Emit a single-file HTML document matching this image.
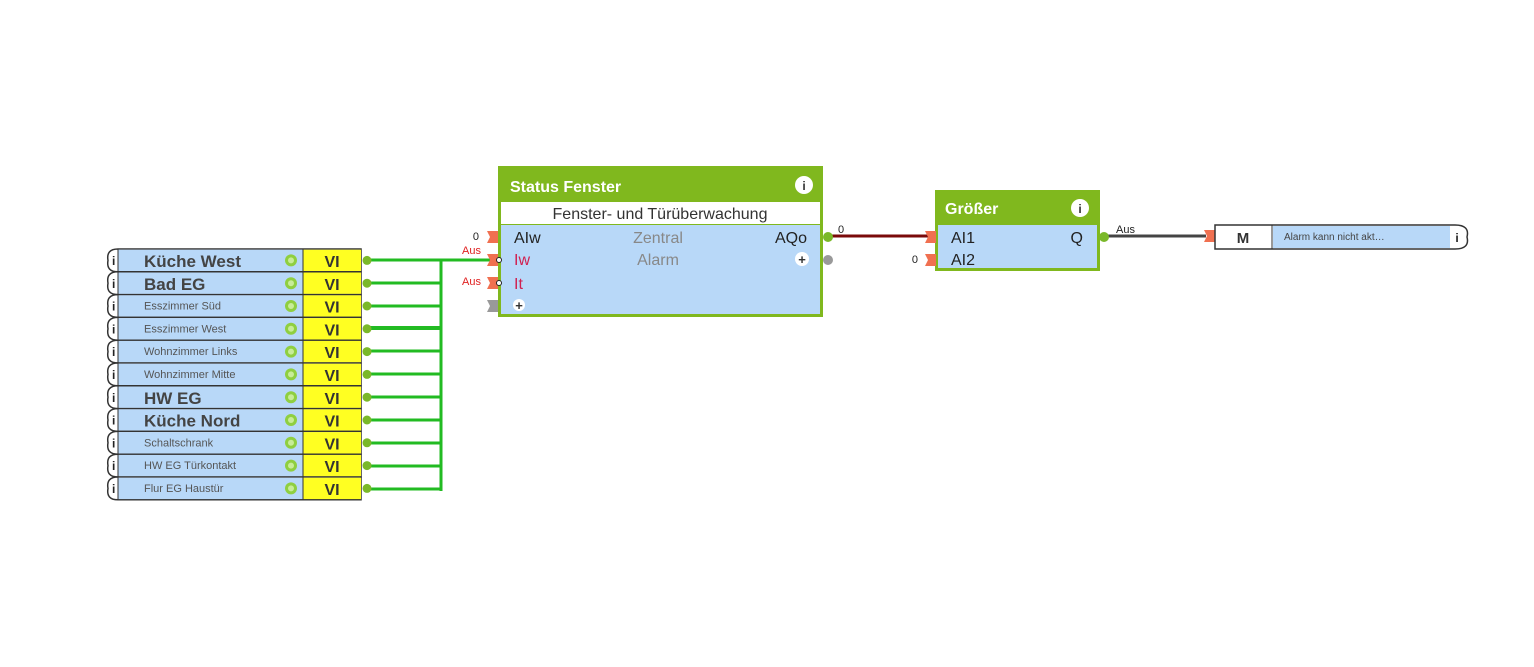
<!DOCTYPE html>
<html><head><meta charset="utf-8"><style>
html,body{margin:0;padding:0;background:#fff;width:1534px;height:667px;overflow:hidden}
svg{display:block;font-family:"Liberation Sans",sans-serif}
</style></head><body>
<svg width="1534" height="667" viewBox="0 0 1534 667" xmlns="http://www.w3.org/2000/svg">
<!-- bus lines -->
<g stroke="#22bb22" stroke-width="3" fill="none">
<line x1="441" y1="260" x2="441" y2="491"/>
<line x1="370" y1="260" x2="495" y2="260"/>
<line x1="370" y1="283" x2="441" y2="283"/>
<line x1="370" y1="306" x2="441" y2="306"/>
<line x1="370" y1="328" x2="441" y2="328" stroke-width="4"/>
<line x1="370" y1="351" x2="441" y2="351"/>
<line x1="370" y1="374" x2="441" y2="374"/>
<line x1="370" y1="397" x2="441" y2="397"/>
<line x1="370" y1="420" x2="441" y2="420"/>
<line x1="370" y1="443" x2="441" y2="443"/>
<line x1="370" y1="466" x2="441" y2="466"/>
<line x1="370" y1="489" x2="441" y2="489"/>
</g>
<line x1="830" y1="236" x2="930" y2="236" stroke="#7a0a0a" stroke-width="3"/>
<line x1="1106" y1="236" x2="1206" y2="236" stroke="#444" stroke-width="3"/>

<!-- rows -->
<g id="rows" font-size="11">
<g transform="translate(0,249)">
<path d="M118,0 H361 V22.8 H118 Q106,22.8 108,11.4 Q106,0 118,0Z" fill="#fff" stroke="#333" stroke-width="1.5"/>
<rect x="118" y="0.7" width="185" height="21.4" fill="#b8d8f8"/><rect x="303" y="0.7" width="58" height="21.4" fill="#ffff22"/>
<line x1="303" y1="0" x2="303" y2="22.8" stroke="#333"/><line x1="118" y1="0" x2="118" y2="22.8" stroke="#333"/>
<text x="112" y="16" font-size="12" font-weight="bold" fill="#222">i</text>
<circle cx="291" cy="11.4" r="6" fill="#8fcf40"/><circle cx="291" cy="11.4" r="3" fill="#c8ec98"/>
<text x="332" y="18" font-size="16" font-weight="bold" text-anchor="middle" fill="#333">VI</text>
<circle cx="367" cy="11.4" r="4.5" fill="#7ab829"/>
<text x="144" y="18" font-size="17" font-weight="bold" fill="#444">Küche West</text>
</g>
</g>
<g font-size="11">
<!-- generated rows 2..11 -->
<g transform="translate(0,271.8)"><path d="M118,0 H361 V22.8 H118 Q106,22.8 108,11.4 Q106,0 118,0Z" fill="#fff" stroke="#333" stroke-width="1.5"/><rect x="118" y="0.7" width="185" height="21.4" fill="#b8d8f8"/><rect x="303" y="0.7" width="58" height="21.4" fill="#ffff22"/><line x1="303" y1="0" x2="303" y2="22.8" stroke="#333"/><line x1="118" y1="0" x2="118" y2="22.8" stroke="#333"/><text x="112" y="16" font-size="12" font-weight="bold" fill="#222">i</text><circle cx="291" cy="11.4" r="6" fill="#8fcf40"/><circle cx="291" cy="11.4" r="3" fill="#c8ec98"/><text x="332" y="18" font-size="16" font-weight="bold" text-anchor="middle" fill="#333">VI</text><circle cx="367" cy="11.4" r="4.5" fill="#7ab829"/><text x="144" y="18" font-size="17" font-weight="bold" fill="#444">Bad EG</text></g>
<g transform="translate(0,294.6)"><path d="M118,0 H361 V22.8 H118 Q106,22.8 108,11.4 Q106,0 118,0Z" fill="#fff" stroke="#333" stroke-width="1.5"/><rect x="118" y="0.7" width="185" height="21.4" fill="#b8d8f8"/><rect x="303" y="0.7" width="58" height="21.4" fill="#ffff22"/><line x1="303" y1="0" x2="303" y2="22.8" stroke="#333"/><line x1="118" y1="0" x2="118" y2="22.8" stroke="#333"/><text x="112" y="16" font-size="12" font-weight="bold" fill="#222">i</text><circle cx="291" cy="11.4" r="6" fill="#8fcf40"/><circle cx="291" cy="11.4" r="3" fill="#c8ec98"/><text x="332" y="18" font-size="16" font-weight="bold" text-anchor="middle" fill="#333">VI</text><circle cx="367" cy="11.4" r="4.5" fill="#7ab829"/><text x="144" y="15" fill="#555">Esszimmer Süd</text></g>
<g transform="translate(0,317.4)"><path d="M118,0 H361 V22.8 H118 Q106,22.8 108,11.4 Q106,0 118,0Z" fill="#fff" stroke="#333" stroke-width="1.5"/><rect x="118" y="0.7" width="185" height="21.4" fill="#b8d8f8"/><rect x="303" y="0.7" width="58" height="21.4" fill="#ffff22"/><line x1="303" y1="0" x2="303" y2="22.8" stroke="#333"/><line x1="118" y1="0" x2="118" y2="22.8" stroke="#333"/><text x="112" y="16" font-size="12" font-weight="bold" fill="#222">i</text><circle cx="291" cy="11.4" r="6" fill="#8fcf40"/><circle cx="291" cy="11.4" r="3" fill="#c8ec98"/><text x="332" y="18" font-size="16" font-weight="bold" text-anchor="middle" fill="#333">VI</text><circle cx="367" cy="11.4" r="4.5" fill="#7ab829"/><text x="144" y="15" fill="#555">Esszimmer West</text></g>
<g transform="translate(0,340.2)"><path d="M118,0 H361 V22.8 H118 Q106,22.8 108,11.4 Q106,0 118,0Z" fill="#fff" stroke="#333" stroke-width="1.5"/><rect x="118" y="0.7" width="185" height="21.4" fill="#b8d8f8"/><rect x="303" y="0.7" width="58" height="21.4" fill="#ffff22"/><line x1="303" y1="0" x2="303" y2="22.8" stroke="#333"/><line x1="118" y1="0" x2="118" y2="22.8" stroke="#333"/><text x="112" y="16" font-size="12" font-weight="bold" fill="#222">i</text><circle cx="291" cy="11.4" r="6" fill="#8fcf40"/><circle cx="291" cy="11.4" r="3" fill="#c8ec98"/><text x="332" y="18" font-size="16" font-weight="bold" text-anchor="middle" fill="#333">VI</text><circle cx="367" cy="11.4" r="4.5" fill="#7ab829"/><text x="144" y="15" fill="#555">Wohnzimmer Links</text></g>
<g transform="translate(0,363)"><path d="M118,0 H361 V22.8 H118 Q106,22.8 108,11.4 Q106,0 118,0Z" fill="#fff" stroke="#333" stroke-width="1.5"/><rect x="118" y="0.7" width="185" height="21.4" fill="#b8d8f8"/><rect x="303" y="0.7" width="58" height="21.4" fill="#ffff22"/><line x1="303" y1="0" x2="303" y2="22.8" stroke="#333"/><line x1="118" y1="0" x2="118" y2="22.8" stroke="#333"/><text x="112" y="16" font-size="12" font-weight="bold" fill="#222">i</text><circle cx="291" cy="11.4" r="6" fill="#8fcf40"/><circle cx="291" cy="11.4" r="3" fill="#c8ec98"/><text x="332" y="18" font-size="16" font-weight="bold" text-anchor="middle" fill="#333">VI</text><circle cx="367" cy="11.4" r="4.5" fill="#7ab829"/><text x="144" y="15" fill="#555">Wohnzimmer Mitte</text></g>
<g transform="translate(0,385.8)"><path d="M118,0 H361 V22.8 H118 Q106,22.8 108,11.4 Q106,0 118,0Z" fill="#fff" stroke="#333" stroke-width="1.5"/><rect x="118" y="0.7" width="185" height="21.4" fill="#b8d8f8"/><rect x="303" y="0.7" width="58" height="21.4" fill="#ffff22"/><line x1="303" y1="0" x2="303" y2="22.8" stroke="#333"/><line x1="118" y1="0" x2="118" y2="22.8" stroke="#333"/><text x="112" y="16" font-size="12" font-weight="bold" fill="#222">i</text><circle cx="291" cy="11.4" r="6" fill="#8fcf40"/><circle cx="291" cy="11.4" r="3" fill="#c8ec98"/><text x="332" y="18" font-size="16" font-weight="bold" text-anchor="middle" fill="#333">VI</text><circle cx="367" cy="11.4" r="4.5" fill="#7ab829"/><text x="144" y="18" font-size="17" font-weight="bold" fill="#444">HW EG</text></g>
<g transform="translate(0,408.6)"><path d="M118,0 H361 V22.8 H118 Q106,22.8 108,11.4 Q106,0 118,0Z" fill="#fff" stroke="#333" stroke-width="1.5"/><rect x="118" y="0.7" width="185" height="21.4" fill="#b8d8f8"/><rect x="303" y="0.7" width="58" height="21.4" fill="#ffff22"/><line x1="303" y1="0" x2="303" y2="22.8" stroke="#333"/><line x1="118" y1="0" x2="118" y2="22.8" stroke="#333"/><text x="112" y="16" font-size="12" font-weight="bold" fill="#222">i</text><circle cx="291" cy="11.4" r="6" fill="#8fcf40"/><circle cx="291" cy="11.4" r="3" fill="#c8ec98"/><text x="332" y="18" font-size="16" font-weight="bold" text-anchor="middle" fill="#333">VI</text><circle cx="367" cy="11.4" r="4.5" fill="#7ab829"/><text x="144" y="18" font-size="17" font-weight="bold" fill="#444">Küche Nord</text></g>
<g transform="translate(0,431.4)"><path d="M118,0 H361 V22.8 H118 Q106,22.8 108,11.4 Q106,0 118,0Z" fill="#fff" stroke="#333" stroke-width="1.5"/><rect x="118" y="0.7" width="185" height="21.4" fill="#b8d8f8"/><rect x="303" y="0.7" width="58" height="21.4" fill="#ffff22"/><line x1="303" y1="0" x2="303" y2="22.8" stroke="#333"/><line x1="118" y1="0" x2="118" y2="22.8" stroke="#333"/><text x="112" y="16" font-size="12" font-weight="bold" fill="#222">i</text><circle cx="291" cy="11.4" r="6" fill="#8fcf40"/><circle cx="291" cy="11.4" r="3" fill="#c8ec98"/><text x="332" y="18" font-size="16" font-weight="bold" text-anchor="middle" fill="#333">VI</text><circle cx="367" cy="11.4" r="4.5" fill="#7ab829"/><text x="144" y="15" fill="#555">Schaltschrank</text></g>
<g transform="translate(0,454.2)"><path d="M118,0 H361 V22.8 H118 Q106,22.8 108,11.4 Q106,0 118,0Z" fill="#fff" stroke="#333" stroke-width="1.5"/><rect x="118" y="0.7" width="185" height="21.4" fill="#b8d8f8"/><rect x="303" y="0.7" width="58" height="21.4" fill="#ffff22"/><line x1="303" y1="0" x2="303" y2="22.8" stroke="#333"/><line x1="118" y1="0" x2="118" y2="22.8" stroke="#333"/><text x="112" y="16" font-size="12" font-weight="bold" fill="#222">i</text><circle cx="291" cy="11.4" r="6" fill="#8fcf40"/><circle cx="291" cy="11.4" r="3" fill="#c8ec98"/><text x="332" y="18" font-size="16" font-weight="bold" text-anchor="middle" fill="#333">VI</text><circle cx="367" cy="11.4" r="4.5" fill="#7ab829"/><text x="144" y="15" fill="#555">HW EG Türkontakt</text></g>
<g transform="translate(0,477)"><path d="M118,0 H361 V22.8 H118 Q106,22.8 108,11.4 Q106,0 118,0Z" fill="#fff" stroke="#333" stroke-width="1.5"/><rect x="118" y="0.7" width="185" height="21.4" fill="#b8d8f8"/><rect x="303" y="0.7" width="58" height="21.4" fill="#ffff22"/><line x1="303" y1="0" x2="303" y2="22.8" stroke="#333"/><line x1="118" y1="0" x2="118" y2="22.8" stroke="#333"/><text x="112" y="16" font-size="12" font-weight="bold" fill="#222">i</text><circle cx="291" cy="11.4" r="6" fill="#8fcf40"/><circle cx="291" cy="11.4" r="3" fill="#c8ec98"/><text x="332" y="18" font-size="16" font-weight="bold" text-anchor="middle" fill="#333">VI</text><circle cx="367" cy="11.4" r="4.5" fill="#7ab829"/><text x="144" y="15" fill="#555">Flur EG Haustür</text></g>
</g>

<!-- Status Fenster block -->
<rect x="498" y="166" width="325" height="151" fill="#80b81e"/>
<rect x="501" y="202" width="319" height="22" fill="#fff"/>
<rect x="501" y="225" width="319" height="89" fill="#b8d8f8"/>
<text x="510" y="192" font-size="16" font-weight="bold" fill="#fff">Status Fenster</text>
<circle cx="804" cy="185" r="9" fill="#fff"/><text x="804" y="190" font-size="12" font-weight="bold" text-anchor="middle" fill="#333">i</text>
<text x="660" y="219" font-size="16" text-anchor="middle" fill="#333">Fenster- und Türüberwachung</text>
<text x="514" y="243" font-size="16" fill="#222">AIw</text>
<text x="514" y="265" font-size="16" fill="#d02050">Iw</text>
<text x="514" y="289" font-size="16" fill="#d02050">It</text>
<circle cx="519" cy="305" r="6" fill="#fff"/><text x="519" y="310" font-size="13" font-weight="bold" text-anchor="middle" fill="#333">+</text>
<text x="658" y="243" font-size="16" text-anchor="middle" fill="#888">Zentral</text>
<text x="658" y="265" font-size="16" text-anchor="middle" fill="#888">Alarm</text>
<text x="807" y="243" font-size="16" text-anchor="end" fill="#222">AQo</text>
<circle cx="802" cy="259" r="7" fill="#fff"/><text x="802" y="264" font-size="13" font-weight="bold" text-anchor="middle" fill="#333">+</text>
<circle cx="828" cy="237" r="5" fill="#7ab829"/>
<circle cx="828" cy="260" r="5" fill="#999"/>
<!-- input pins -->
<g fill="#f07050">
<path d="M487,231 h11 v12 h-11 l3,-6z"/>
<path d="M487,254 h11 v12 h-11 l3,-6z"/>
<path d="M487,277 h11 v12 h-11 l3,-6z"/>
</g>
<path d="M487,300 h11 v12 h-11 l3,-6z" fill="#999"/>
<circle cx="499" cy="260" r="2.5" fill="#fff" stroke="#222"/>
<circle cx="499" cy="283" r="2.5" fill="#fff" stroke="#222"/>
<text x="479" y="240" font-size="11" text-anchor="end" fill="#222">0</text>
<text x="481" y="254" font-size="11" text-anchor="end" fill="#e02020">Aus</text>
<text x="481" y="285" font-size="11" text-anchor="end" fill="#e02020">Aus</text>
<text x="838" y="233" font-size="11" fill="#222">0</text>

<!-- Größer block -->
<rect x="935" y="190" width="165" height="81" fill="#80b81e"/>
<rect x="938" y="225" width="159" height="43" fill="#b8d8f8"/>
<text x="945" y="214" font-size="16" font-weight="bold" fill="#fff">Größer</text>
<circle cx="1080" cy="208" r="9" fill="#fff"/><text x="1080" y="213" font-size="12" font-weight="bold" text-anchor="middle" fill="#333">i</text>
<text x="951" y="243" font-size="16" fill="#222">AI1</text>
<text x="951" y="265" font-size="16" fill="#222">AI2</text>
<text x="1083" y="243" font-size="16" text-anchor="end" fill="#222">Q</text>
<path d="M925,231 h11 v12 h-11 l3,-6z" fill="#f07050"/>
<path d="M925,254 h11 v12 h-11 l3,-6z" fill="#f07050"/>
<text x="918" y="263" font-size="11" text-anchor="end" fill="#222">0</text>
<circle cx="1104" cy="237" r="5" fill="#7ab829"/>
<text x="1116" y="233" font-size="11" fill="#222">Aus</text>

<!-- M output -->
<path d="M1204,230 h11 v12 h-11 l3,-6z" fill="#f07050"/>
<path d="M1215,225 H1455 Q1470,225 1467,237 Q1470,249 1455,249 H1215Z" fill="#fff" stroke="#333" stroke-width="1.5"/>
<rect x="1273" y="226" width="177" height="22" fill="#b8d8f8"/>
<line x1="1272" y1="225" x2="1272" y2="249" stroke="#333"/>
<text x="1243" y="243" font-size="15" font-weight="bold" text-anchor="middle" fill="#333">M</text>
<text x="1284" y="240" font-size="10" fill="#444">Alarm kann nicht akt…</text>
<text x="1457" y="242" font-size="12" font-weight="bold" text-anchor="middle" fill="#222">i</text>
</svg>
</body></html>
